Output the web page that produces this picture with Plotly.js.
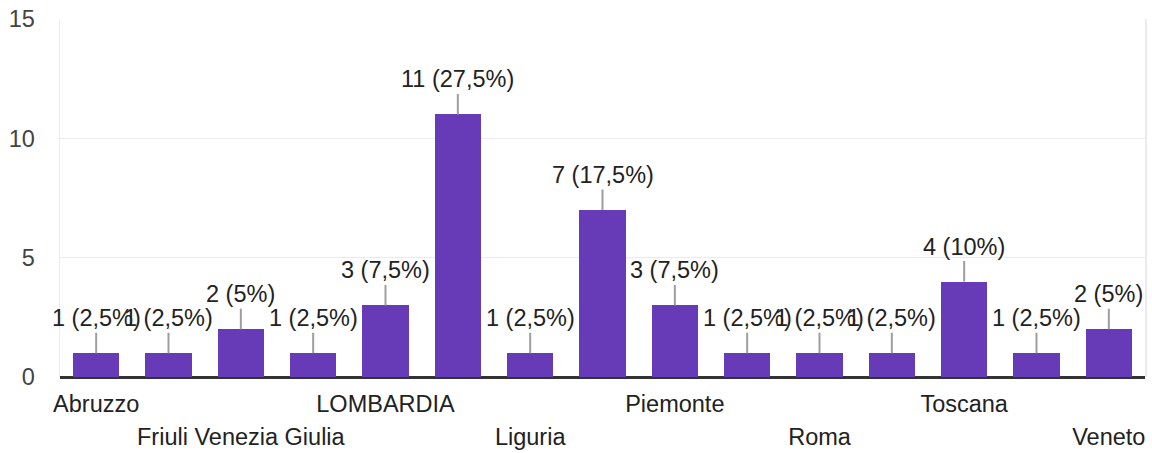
<!DOCTYPE html>
<html>
<head>
<meta charset="utf-8">
<script src="https://cdn.plot.ly/plotly-3.0.1.min.js"></script>
<style>html,body{margin:0;padding:0;background:#fff;}#chart{width:1152px;height:453px;}</style>
</head>
<body>
<div id="chart"></div>
<script>
// Categories (hidden labels are guesses; only alternating labels are shown in the chart)
const categories = ["Abruzzo","Emilia Romagna","Friuli Venezia Giulia","Lazio","LOMBARDIA","Lombardia","Liguria","Milano","Piemonte","Puglia","Roma","Sicilia","Toscana","Trentino","Veneto"];
const counts = [1,1,2,1,3,11,1,7,3,1,1,1,4,1,2];
const labels = ["1 (2,5%)","1 (2,5%)","2 (5%)","1 (2,5%)","3 (7,5%)","11 (27,5%)","1 (2,5%)","7 (17,5%)","3 (7,5%)","1 (2,5%)","1 (2,5%)","1 (2,5%)","4 (10%)","1 (2,5%)","2 (5%)"];
const yTicks = [0,5,10,15];

const idx = categories.map((c,i)=>i);
const row1 = idx.filter(i=>i%2===0 && (i/2)%2===0);
const row2 = idx.filter(i=>i%2===0 && (i/2)%2===1);

const FONT = "Liberation Sans, Arial, sans-serif";
const FS = 23.5;

const trace = {
  type: "bar",
  x: idx,
  y: counts,
  width: 0.64,
  marker: {color: "#673ab7"},
  hoverinfo: "none",
  showlegend: false
};

const annotations = idx.map(i => ({
  x: i, y: counts[i], xref: "x", yref: "y",
  text: labels[i],
  showarrow: true, arrowhead: 0, arrowwidth: 2, arrowcolor: "#9e9e9e",
  ax: 0, ay: -35, standoff: 0,
  font: {family: FONT, size: FS, color: "#222"}
}));

const layout = {
  width: 1152, height: 453,
  margin: {l: 60, r: 7, t: 19, b: 76},
  paper_bgcolor: "#fff", plot_bgcolor: "#fff",
  bargap: 0,
  xaxis: {
    type: "linear", range: [-0.5, 14.5], fixedrange: true,
    tickvals: row1, ticktext: row1.map(i=>categories[i]),
    ticks: "", showgrid: false, zeroline: false, showline: false,
    ticklabelstandoff: 10,
    tickfont: {family: FONT, size: FS, color: "#222"}
  },
  xaxis2: {
    type: "linear", range: [-0.5, 14.5], overlaying: "x", anchor: "y", side: "bottom",
    tickvals: row2, ticktext: row2.map(i=>categories[i]),
    ticks: "", showgrid: false, zeroline: false, showline: false,
    ticklabelstandoff: 43,
    tickfont: {family: FONT, size: FS, color: "#222"}
  },
  yaxis: {
    range: [0, 15], tickvals: yTicks, ticktext: yTicks.map(String),
    showgrid: true, gridcolor: "#ebebeb", gridwidth: 1.5,
    showline: true, mirror: true, linecolor: "#ebebeb", linewidth: 1.5,
    zeroline: true, zerolinecolor: "#333", zerolinewidth: 3,
    ticks: "", ticklabelstandoff: 19,
    tickfont: {family: FONT, size: FS, color: "#444"}
  },
  annotations: annotations
};

// invisible helper trace so the second (label-row) axis is drawn
const dummy = {type: "scatter", x: [0], y: [0], xaxis: "x2", yaxis: "y", mode: "markers", marker: {opacity: 0}, hoverinfo: "none", showlegend: false};

Plotly.newPlot("chart", [trace, dummy], layout, {displayModeBar: false, staticPlot: true});
</script>
</body>
</html>
